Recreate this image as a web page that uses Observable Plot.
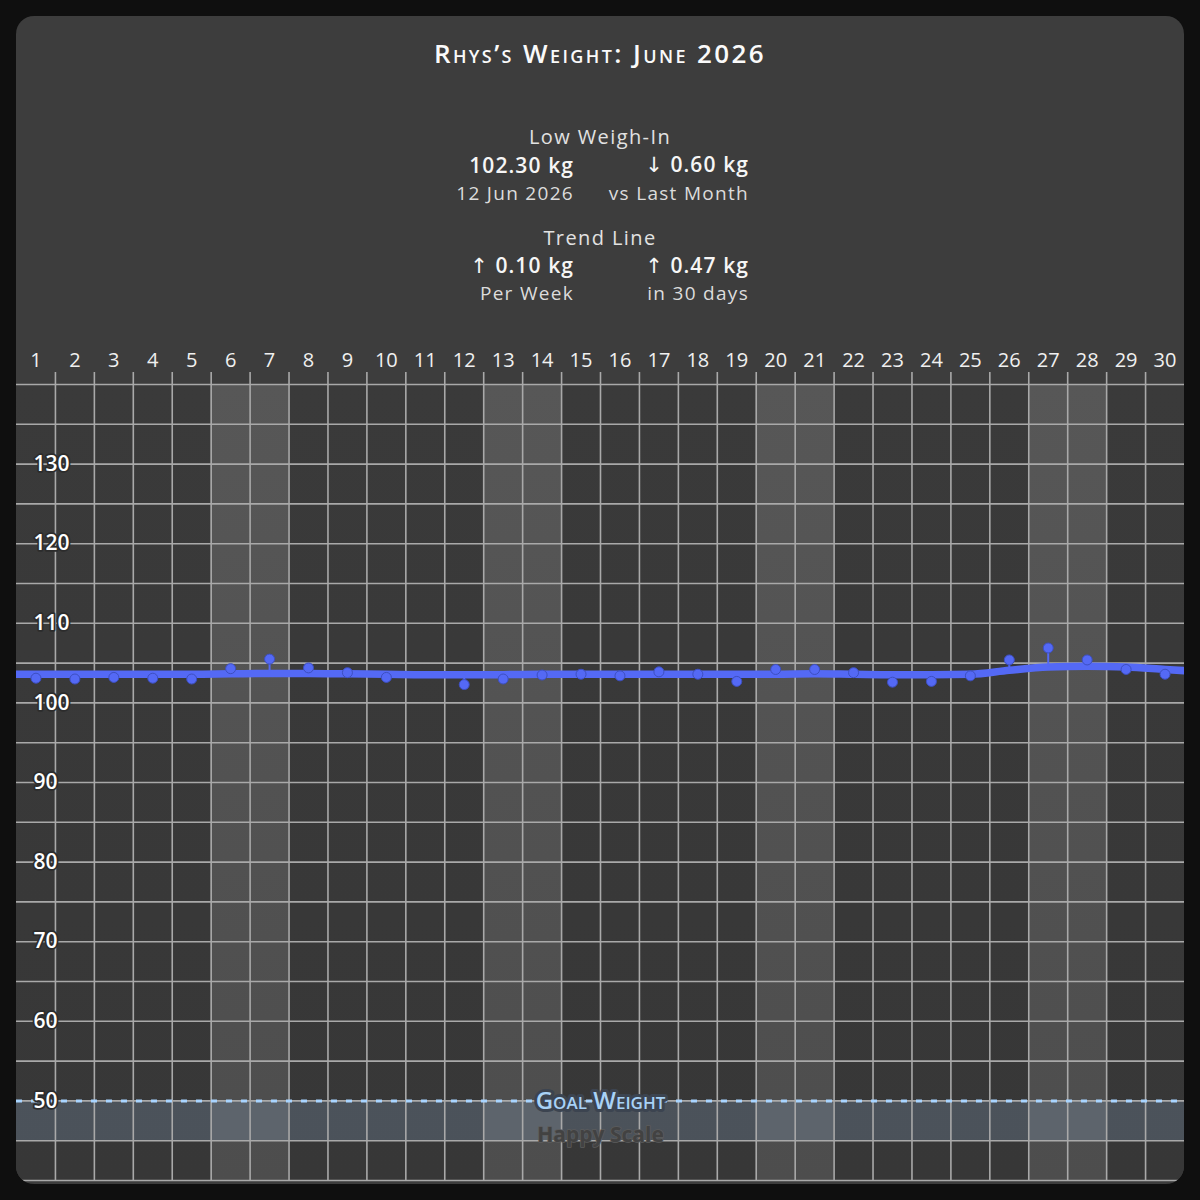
<!DOCTYPE html>
<html>
<head>
<meta charset="utf-8">
<script src="https://cdn.jsdelivr.net/npm/d3@7"></script>
<script src="https://cdn.jsdelivr.net/npm/@observablehq/plot@0.6"></script>
<style>
  html, body { margin: 0; padding: 0; background: #0f0f0f; width: 1200px; height: 1200px; overflow: hidden; }
  #card { position: absolute; left: 16px; top: 16px; width: 1168px; height: 1168px; border-radius: 18px; background: #3d3d3d; overflow: hidden; font-family: "Open Sans", sans-serif; color: #fff; }
  .t { position: absolute; white-space: nowrap; line-height: 1; }
  .arrow { font-family: "DejaVu Sans", sans-serif; font-weight: 400; }
  #chart { position: absolute; left: 0; top: 324px; }
</style>
</head>
<body>
<div id="card"><div id="chart"></div></div>
<script>
// ---------- data ----------
const title = "Rhys’s Weight: June 2026";
const statsHeadings = ["Low Weigh-In", "Trend Line"];
const statsValues = [["102.30 kg", "↓ 0.60 kg"], ["↑ 0.10 kg", "↑ 0.47 kg"]];
const statsNotes = [["12 Jun 2026", "vs Last Month"], ["Per Week", "in 30 days"]];

const days = d3.range(1, 31);
const weekendDays = [6, 7, 13, 14, 20, 21, 27, 28];
// daily weigh-ins (kg); day 11 has no weigh-in
const weights = [103.1, 103.0, 103.2, 103.1, 103.0, 104.3, 105.5, 104.4, 103.8, 103.2,
                 null, 102.3, 103.0, 103.5, 103.6, 103.4, 103.9, 103.6, 102.7, 104.2,
                 104.2, 103.8, 102.6, 102.7, 103.4, 105.4, 106.9, 105.4, 104.2, 103.6];
// trend line, days 0 (31 May) to 31 (1 Jul)
const trendDays = d3.range(0, 32);
const trendValues = [103.6, 103.6, 103.6, 103.6, 103.6, 103.6, 103.65, 103.7, 103.7, 103.65, 103.6,
                     103.55, 103.55, 103.55, 103.6, 103.6, 103.6, 103.6, 103.6, 103.6, 103.6,
                     103.65, 103.6, 103.55, 103.55, 103.6, 104.1, 104.5, 104.6, 104.5, 104.2, 103.9];
const yLabelTicks = [50, 60, 70, 80, 90, 100, 110, 120, 130];
const yGridTicks = d3.range(40, 141, 5);
const xDomain = [0.5, 30.5];
const yDomain = [40, 140];
const goalWeight = 50;
const happyScaleLow = 45;
const goalLabel = "Goal Weight";
const brandLabel = "Happy Scale";

// ---------- header text ----------
const card = document.getElementById("card");
function put(text, x, y, anchor, css) {
  const el = document.createElement("div");
  el.className = "t";
  const m = text.match(/^([↑↓])\s(.*)$/);
  if (m) {
    const a = document.createElement("span");
    a.className = "arrow";
    a.textContent = m[1];
    el.appendChild(a);
    el.appendChild(document.createTextNode(" " + m[2]));
  } else {
    el.textContent = text;
  }
  const tx = anchor === "middle" ? "-50%" : anchor === "end" ? "-100%" : "0";
  el.style.left = x + "px";
  el.style.top = y + "px";
  el.style.transform = `translate(${tx}, -50%)`;
  Object.assign(el.style, css);
  card.appendChild(el);
}
put(title, 584, 37, "middle", {fontSize: "26px", fontWeight: "600", fontVariant: "small-caps", letterSpacing: "2.4px", color: "#fafafa"});
const headY = [121, 222], valY = [149, 250], noteY = [177, 277];
const colRight = [558, 733];
statsHeadings.forEach((h, i) => {
  put(h, 584, headY[i], "middle", {fontSize: "20px", fontWeight: "400", letterSpacing: "1.4px", color: "#e2e2e2"});
  statsValues[i].forEach((v, j) => put(v, colRight[j], valY[i], "end", {fontSize: "21px", fontWeight: "600", letterSpacing: "1.1px", color: "#f6f6f6"}));
  statsNotes[i].forEach((v, j) => put(v, colRight[j], noteY[i], "end", {fontSize: "19px", fontWeight: "400", letterSpacing: "1.3px", color: "#dcdcdc"}));
});

// ---------- chart ----------
const weighIns = days.map((d, i) => ({day: d, weight: weights[i], trend: trendValues[trendDays.indexOf(d)]}))
  .filter(d => d.weight != null);
const trend = trendDays.map((d, i) => ({day: d, trend: trendValues[i]}));
const columns = days.map(d => ({day: d, weekend: weekendDays.includes(d)}));
const boundaries = days.slice(0, -1).map(d => d + 0.5);

const blue = "#5469f5";
const gridStroke = "#a9a9a9";

const chart = Plot.plot({
  width: 1168,
  height: 844,
  marginTop: 44,
  marginBottom: 4,
  marginLeft: 0,
  marginRight: 0,
  style: {background: "transparent", color: "#eeeeee", fontFamily: "'Open Sans', sans-serif"},
  x: {domain: xDomain, axis: null},
  y: {domain: yDomain, axis: null},
  marks: [
    Plot.rect(columns.filter(d => !d.weekend), {x1: d => d.day - 0.5, x2: d => d.day + 0.5, y1: yDomain[0], y2: yDomain[1], fill: "url(#wdGrad)"}),
    Plot.rect(columns.filter(d => d.weekend), {x1: d => d.day - 0.5, x2: d => d.day + 0.5, y1: yDomain[0], y2: yDomain[1], fill: "url(#weGrad)"}),
    Plot.rect([goalWeight], {x1: xDomain[0], x2: xDomain[1], y1: happyScaleLow, y2: d => d, fill: "rgb(150,180,220)", fillOpacity: 0.22}),
    Plot.gridY(yGridTicks, {stroke: gridStroke, strokeOpacity: 1, strokeWidth: 1.6}),
    Plot.gridX(boundaries, {stroke: gridStroke, strokeOpacity: 1, strokeWidth: 1.6}),
    Plot.axisX(boundaries, {anchor: "top", label: null, tickSize: 13, tickFormat: () => "", stroke: gridStroke, strokeOpacity: 1, strokeWidth: 1.6}),
    Plot.axisX(days, {anchor: "top", label: null, tickSize: 0, tickPadding: 18, fontSize: 20, fill: "#f0f0f0"}),
    Plot.ruleY([goalWeight], {stroke: "#a8d4ff", strokeWidth: 3, strokeDasharray: "6,9"}),
    Plot.text([goalLabel], {y: goalWeight, frameAnchor: "middle", text: d => d, fontSize: 24, fontWeight: 600, fontVariant: "small-caps",
      fill: "#a8d2f6", stroke: "#3c4450", strokeWidth: 6, paintOrder: "stroke"}),
    Plot.text([brandLabel], {y: happyScaleLow, frameAnchor: "middle", text: d => d, dy: -5, fontSize: 21, fontWeight: 700,
      fill: "#424242", stroke: "#5c5c5c", strokeWidth: 1.5, paintOrder: "stroke"}),
    Plot.text(yLabelTicks, {y: d => d, text: d => String(d), frameAnchor: "left", dx: 17, textAnchor: "start",
      fontSize: 21, fontWeight: 600, fill: "#ffffff", stroke: "#2c2c2c", strokeWidth: 3.5, paintOrder: "stroke"}),
    Plot.line(trend, {x: "day", y: "trend", stroke: blue, strokeWidth: 7.5, curve: "monotone-x", clip: true}),
    Plot.ruleX(weighIns, {x: "day", y1: "trend", y2: "weight", stroke: blue, strokeWidth: 2}),
    Plot.dot(weighIns, {x: "day", y: "weight", r: 5, fill: blue, stroke: "#3d4fc0", strokeWidth: 1})
  ]
});

// gradients for column shading
const ns = "http://www.w3.org/2000/svg";
const defs = document.createElementNS(ns, "defs");
function grad(id, top, bottom) {
  const g = document.createElementNS(ns, "linearGradient");
  g.setAttribute("id", id);
  g.setAttribute("x1", "0"); g.setAttribute("y1", "0"); g.setAttribute("x2", "0"); g.setAttribute("y2", "1");
  [[0, top], [1, bottom]].forEach(([o, c]) => {
    const s = document.createElementNS(ns, "stop");
    s.setAttribute("offset", o); s.setAttribute("stop-color", c);
    g.appendChild(s);
  });
  defs.appendChild(g);
}
grad("wdGrad", "#3a3a3a", "#373737");
grad("weGrad", "#575757", "#4d4d4d");
chart.insertBefore(defs, chart.firstChild);

document.getElementById("chart").appendChild(chart);
</script>
</body>
</html>
